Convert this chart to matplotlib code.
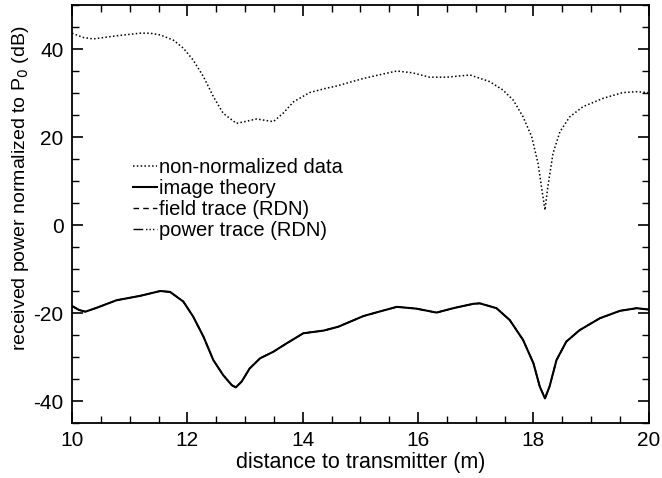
import matplotlib
matplotlib.use("Agg")
import matplotlib.pyplot as plt
from matplotlib.ticker import MultipleLocator

plt.rcParams['font.family'] = ['Liberation Sans', 'DejaVu Sans']
plt.rcParams['axes.unicode_minus'] = False

# non-normalized data
x_raw = [10.0, 10.2, 10.37, 10.77, 11.18, 11.35, 11.53, 11.76, 11.93, 12.10, 12.28, 12.45,
         12.62, 12.85, 13.03, 13.2, 13.49, 13.66, 13.84, 14.12, 14.41, 14.59, 15.05, 15.35,
         15.63, 15.9, 16.2, 16.5, 16.9, 17.24, 17.47, 17.65, 17.82, 17.97, 18.08, 18.14,
         18.20, 18.25, 18.34, 18.46, 18.63, 18.86, 19.21, 19.55, 19.79, 19.99]
y_raw = [43.6, 42.6, 42.3, 43.0, 43.6, 43.6, 43.2, 42.0, 40.2, 37.5, 33.7, 29.2,
         25.4, 23.1, 23.6, 24.1, 23.5, 25.4, 28.0, 30.1, 31.1, 31.6, 33.3, 34.2,
         35.0, 34.6, 33.6, 33.6, 34.1, 32.6, 30.7, 28.4, 24.6, 20.1, 14.0, 8.7,
         3.4, 8.7, 16.3, 21.2, 24.6, 26.9, 28.8, 30.1, 30.3, 30.1]

# image theory / RDN traces (coincide at this resolution)
x_th = [10.0, 10.12, 10.23, 10.43, 10.77, 11.18, 11.53, 11.70, 11.93, 12.10, 12.28, 12.45,
        12.62, 12.77, 12.84, 12.94, 13.08, 13.26, 13.49, 13.72, 14.01, 14.36, 14.62, 15.05,
        15.35, 15.63, 15.97, 16.32, 16.61, 16.96, 17.07, 17.36, 17.59, 17.82, 18.0, 18.11,
        18.2, 18.28, 18.40, 18.57, 18.80, 19.15, 19.50, 19.79, 19.99]
y_th = [-18.4, -19.3, -19.7, -18.8, -17.1, -16.1, -15.0, -15.2, -17.4, -20.8, -25.4, -30.7,
        -34.1, -36.4, -36.9, -35.6, -32.6, -30.3, -28.8, -26.9, -24.6, -24.0, -23.1, -20.7,
        -19.6, -18.6, -19.0, -19.9, -18.9, -17.9, -17.8, -18.9, -21.6, -26.1, -31.4, -36.7,
        -39.4, -36.7, -30.7, -26.5, -23.9, -21.2, -19.5, -18.9, -19.2]
y_field = list(y_th)
y_power = list(y_th)

labels = ["non-normalized data", "image theory", "field trace (RDN)", "power trace (RDN)"]

fig = plt.figure(figsize=(6.62, 4.78), dpi=100)
ax = fig.add_axes([0.1088, 0.115, 0.8712, 0.8745])

ax.plot(x_raw, y_raw, color='black', lw=1.1, linestyle=(0, (1, 1.5)), label=labels[0])
ax.plot(x_th, y_th, color='black', lw=1.5, linestyle='-', label=labels[1])
ax.plot(x_th, y_field, color='black', lw=1.0, linestyle=(0, (4, 3)), label=labels[2])
ax.plot(x_th, y_power, color='black', lw=1.0, linestyle=(0, (7, 2, 1, 1.5, 1, 1.5, 1, 2)), label=labels[3])

ax.set_xlim(10, 20)
ax.set_ylim(-45, 50)
ax.xaxis.set_major_locator(MultipleLocator(2))
ax.xaxis.set_minor_locator(MultipleLocator(0.5))
ax.yaxis.set_major_locator(MultipleLocator(20))
ax.yaxis.set_minor_locator(MultipleLocator(5))
ax.tick_params(which='both', direction='in', top=True, right=True, labelsize=15, pad=6)
ax.tick_params(which='major', length=8, width=1.2)
ax.tick_params(which='minor', length=5, width=1.0)
for s in ax.spines.values():
    s.set_linewidth(1.3)

ax.set_xlabel("distance to transmitter (m)", fontsize=15.5, labelpad=1)
ax.set_ylabel("received power normalized to P$_0$ (dB)", fontsize=14)
ax.yaxis.set_label_coords(-0.072, 0.561)

leg = ax.legend(loc='upper left', bbox_to_anchor=(0.106, 0.633), frameon=False,
                fontsize=14.5, handlelength=1.2, handletextpad=0.1, labelspacing=0.1,
                borderaxespad=0, borderpad=0)

fig.savefig("out.png", dpi=100)
